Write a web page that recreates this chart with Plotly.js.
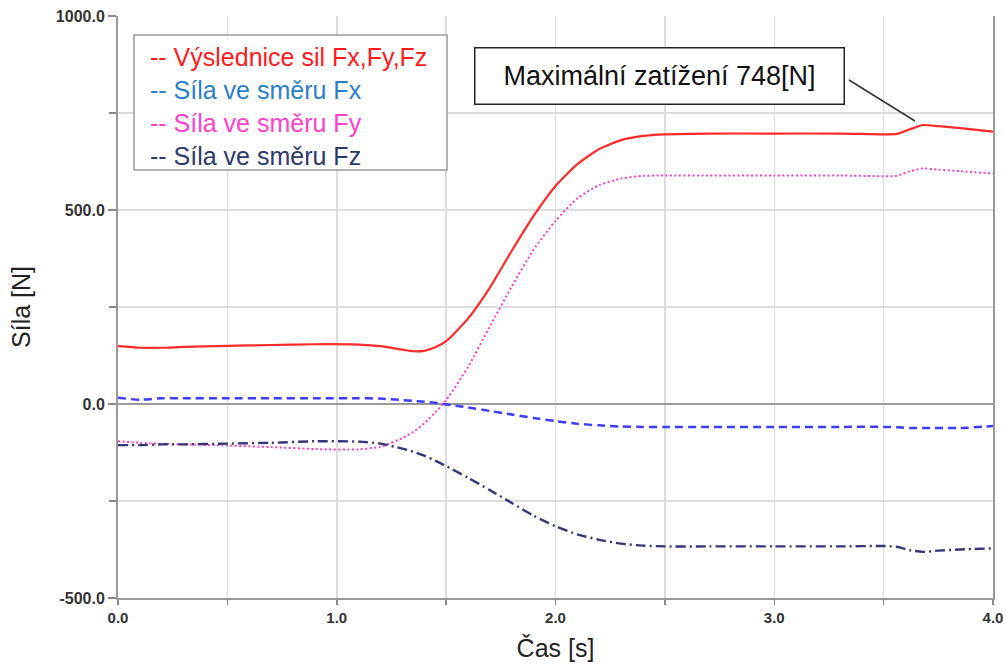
<!DOCTYPE html>
<html>
<head>
<meta charset="utf-8">
<script src="https://cdn.plot.ly/plotly-3.0.1.min.js"></script>
<style>html,body{margin:0;padding:0;background:#fff;}#chart{width:1006px;height:664px;}</style>
</head>
<body>
<div id="chart"></div>
<script>
// time [s]
const time = [0, 0.1, 0.2, 0.3, 0.5, 0.7, 0.9, 1.1, 1.2, 1.3, 1.35, 1.4, 1.45, 1.5, 1.6, 1.7, 1.8, 1.9, 2.0, 2.1, 2.2, 2.3, 2.4, 2.5, 2.7, 3.0, 3.3, 3.5, 3.56, 3.62, 3.68, 3.75, 3.85, 4.0];
// resultant force Fx,Fy,Fz [N]
const fRes = [149, 145, 145, 147, 150, 152, 154, 153, 149, 140, 136, 137, 146, 162, 220, 300, 395, 485, 562, 618, 657, 680, 691, 695, 697, 697, 697, 695, 696, 708, 719, 716, 711, 702];
// force in x direction [N]
const fX = [16, 11, 15, 15, 15, 15, 15, 15, 14, 10, 8, 6, 3, -1, -9, -18, -27, -36, -44, -51, -55, -58, -59, -59, -59, -59, -59, -59, -60, -62, -62, -62, -62, -57];
// force in y direction [N]
const fY = [-96, -100, -103, -104, -107, -111, -116, -117, -110, -88, -72, -50, -22, 10, 95, 200, 303, 398, 472, 530, 564, 581, 588, 589, 589, 589, 589, 587, 588, 600, 607, 604, 600, 594];
// force in z direction [N]
const fZ = [-106, -106, -104, -104, -102, -100, -96, -97, -102, -115, -123, -133, -146, -160, -190, -222, -255, -288, -315, -336, -350, -360, -365, -367, -367, -367, -367, -366, -368, -377, -381, -378, -375, -372];

// y tick labels
const yTickVals = [-500, 0, 500, 1000];
const yTickText = ["-500.0", "0.0", "500.0", "1000.0"];

const legendLabels = ["-- Výslednice sil Fx,Fy,Fz", "-- Síla ve směru Fx", "-- Síla ve směru Fy", "-- Síla ve směru Fz"];
const legendColors = ["#ff1a1a", "#2a7fcc", "#ff3fcc", "#2b3a6b"];
const maxLabel = "Maximální zatížení 748[N]";

const font = "Liberation Sans, Arial, sans-serif";

const traces = [
  {x: time, y: fRes, mode: 'lines', line: {color: '#ff2a2a', width: 2.2, shape: 'spline', smoothing: 0.6}, showlegend: false},
  {x: time, y: fX, mode: 'lines', line: {color: '#3c3cff', width: 2.5, dash: '8px,5px', shape: 'spline', smoothing: 0.6}, showlegend: false},
  {x: time, y: fY, mode: 'lines', line: {color: '#ff3cc0', width: 2, dash: '2px,2.5px', shape: 'spline', smoothing: 0.6}, showlegend: false},
  {x: time, y: fZ, mode: 'lines', line: {color: '#35357a', width: 2.4, dash: '10px,4px,2px,4px', shape: 'spline', smoothing: 0.6}, showlegend: false}
];

const W = 875, H = 582, L = 118, T = 16;
const px = v => (v - L) / W;
const py = v => (T + H - v) / H;

const annotations = legendLabels.map((t, i) => ({
  xref: 'paper', yref: 'paper', x: px(148), y: py(57 + i * 33),
  xanchor: 'left', yanchor: 'middle', showarrow: false, text: t,
  font: {family: font, size: 25, color: legendColors[i]}
}));
annotations.push({
  xref: 'paper', yref: 'paper', x: px(659), y: py(76.5),
  xanchor: 'center', yanchor: 'middle',
  text: maxLabel, showarrow: false,
  width: 360, height: 47, borderpad: 4,
  bordercolor: '#222', borderwidth: 1.5, bgcolor: '#fff',
  font: {family: font, size: 27, color: '#111'}
});

const layout = {
  width: 1006, height: 664,
  margin: {l: L, r: 1006 - L - W, t: T, b: 664 - T - H},
  paper_bgcolor: '#fff', plot_bgcolor: '#fff',
  font: {family: font},
  xaxis: {
    range: [0, 4], dtick: 1, tick0: 0, tickformat: '.1f',
    showgrid: true, gridcolor: '#dcdcdc', gridwidth: 1.5,
    minor: {dtick: 0.5, showgrid: true, gridcolor: '#dcdcdc', gridwidth: 1.5, ticks: 'outside', ticklen: 5, tickcolor: '#888'},
    ticks: 'outside', ticklen: 5, tickcolor: '#888', tickwidth: 1.5,
    showline: true, linecolor: '#999', linewidth: 2, zeroline: false,
    tickfont: {family: font, size: 15, color: '#333', weight: 'bold'},
    title: {text: 'Čas [s]', font: {family: font, size: 25, color: '#222'}, standoff: 14}
  },
  yaxis: {
    range: [-500, 1000], tickvals: yTickVals, ticktext: yTickText,
    showgrid: true, gridcolor: '#dcdcdc', gridwidth: 1.5,
    minor: {dtick: 250, showgrid: true, gridcolor: '#dcdcdc', gridwidth: 1.5, ticks: 'outside', ticklen: 7, tickcolor: '#888'},
    ticks: 'outside', ticklen: 8, tickcolor: '#888', tickwidth: 1.5,
    showline: true, linecolor: '#999', linewidth: 2, mirror: true,
    zeroline: true, zerolinecolor: '#999', zerolinewidth: 2,
    tickfont: {family: font, size: 16, color: '#333', weight: 'bold'},
    title: {text: 'Síla [N]', font: {family: font, size: 25, color: '#222'}, standoff: 18}
  },
  shapes: [
    {
      type: 'rect', xref: 'paper', yref: 'paper',
      x0: px(134), x1: px(447), y0: py(170), y1: py(35),
      line: {color: '#999', width: 1.5}, fillcolor: '#fff', layer: 'above'
    },
    {
      type: 'line', xref: 'paper', yref: 'paper',
      x0: px(849), y0: py(80), x1: px(915), y1: py(121),
      line: {color: '#333', width: 1.5}, layer: 'above'
    }
  ],
  annotations: annotations
};

Plotly.newPlot('chart', traces, layout, {displayModeBar: false, staticPlot: true});
</script>
</body>
</html>
